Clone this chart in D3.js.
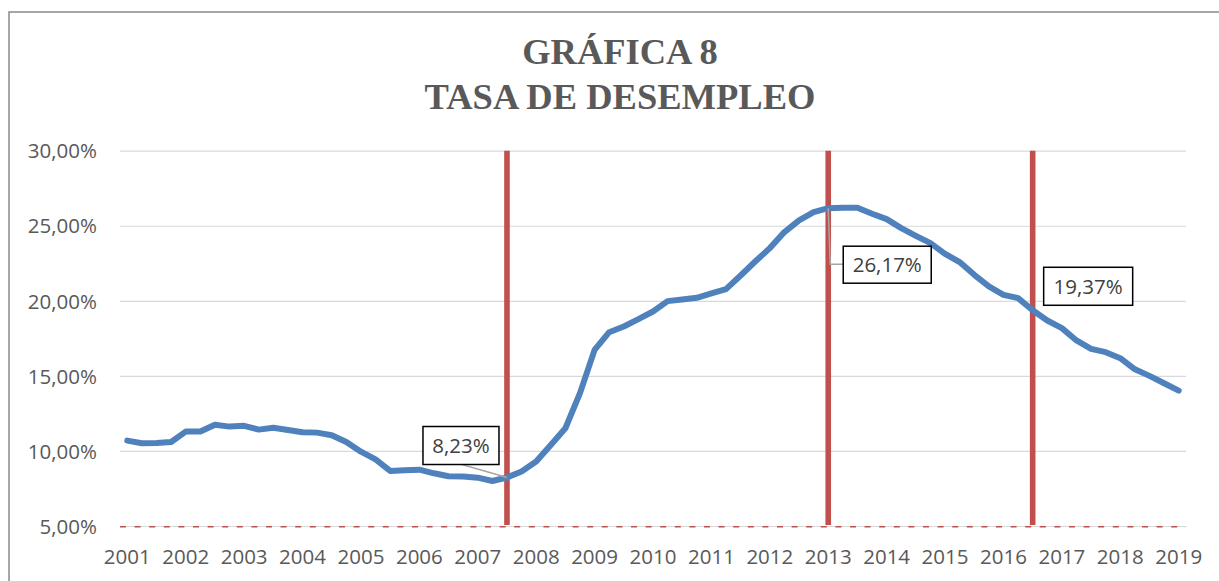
<!DOCTYPE html>
<html>
<head>
<meta charset="utf-8">
<script src="https://cdn.jsdelivr.net/npm/d3@7"></script>
<style>
  html, body { margin: 0; padding: 0; background: #fff; }
  svg { display: block; }
</style>
</head>
<body>
<svg id="chart" width="1219" height="581"></svg>
<script>
// quarterly unemployment rate (%), 2001-I .. 2019-I
const years = [2001, 2002, 2003, 2004, 2005, 2006, 2007, 2008, 2009, 2010,
               2011, 2012, 2013, 2014, 2015, 2016, 2017, 2018, 2019];
const quarterNames = ["I", "II", "III", "IV"];
const quarters = years.flatMap(y => y === 2019 ? [`${y}-I`] : quarterNames.map(q => `${y}-${q}`));

const rate = [
  10.69, 10.51, 10.53, 10.60, 11.29, 11.29, 11.75, 11.62, 11.67, 11.42,
  11.55, 11.40, 11.24, 11.22, 11.05, 10.60,  9.95,  9.44,  8.67,  8.71,
   8.75,  8.51,  8.31,  8.29,  8.22,  8.00,  8.23,  8.63,  9.29, 10.40,
  11.51, 13.85, 16.73, 17.91, 18.29, 18.78, 19.29, 19.98, 20.09, 20.20,
  20.49, 20.78, 21.69, 22.62, 23.51, 24.58, 25.36, 25.91, 26.17, 26.20,
  26.20, 25.80, 25.44, 24.84, 24.33, 23.84, 23.13, 22.58, 21.73, 20.96,
  20.40, 20.18, 19.37, 18.69, 18.18, 17.36, 16.80, 16.58, 16.18, 15.44,
  15.00, 14.51, 14.02
];

const yTicks = [5, 10, 15, 20, 25, 30];
const floorRate = 5;                                   // dashed red reference
const markerQuarters = ["2007-III", "2013-I", "2016-III"];
const titleLines = ["GRÁFICA 8", "TASA DE DESEMPLEO"];

const data = quarters.map((q, i) => ({ q, v: rate[i] }));
const es = d3.formatLocale({ decimal: ",", thousands: ".", grouping: [3], currency: ["", "€"] });
const pct = v => es.format(".2f")(v) + "%";

const svg = d3.select("#chart");
const m = { left: 120, right: 1186, top: 150.7, bottom: 526 };
const FONT = "'Open Sans', 'Liberation Sans', sans-serif";

// chart frame (only left & top visible in the crop)
svg.append("rect").attr("x", 9).attr("y", 12).attr("width", 1240).attr("height", 620)
  .attr("fill", "#fff").attr("stroke", "#898989").attr("stroke-width", 1.5);

// title
svg.append("g").selectAll("text").data(titleLines).join("text")
  .attr("x", 620).attr("y", (d, i) => 64 + i * 45)
  .attr("text-anchor", "middle")
  .attr("font-family", "'Liberation Serif', 'Times New Roman', serif")
  .attr("font-weight", "bold").attr("font-size", 36.5)
  .attr("fill", "#595959")
  .text(d => d);

const x = d3.scaleBand().domain(quarters).range([m.left, m.right]).padding(0);
const cx = q => x(q) + x.bandwidth() / 2;
const y = d3.scaleLinear().domain([5, 30]).range([m.bottom, m.top]);

// gridlines
svg.append("g")
  .attr("transform", `translate(${m.left},0)`)
  .call(d3.axisLeft(y).tickValues(yTicks).tickSize(-(m.right - m.left)).tickFormat(""))
  .call(g => g.select(".domain").remove())
  .call(g => g.selectAll("line").attr("stroke", "#d9d9d9").attr("stroke-width", 1.2));

// y labels
svg.append("g")
  .attr("transform", `translate(97,0)`)
  .call(d3.axisLeft(y).tickValues(yTicks).tickSize(0).tickPadding(0).tickFormat(pct))
  .call(g => g.select(".domain").remove())
  .call(g => g.selectAll("text").attr("fill", "#595959").attr("font-size", 20.5)
    .attr("font-family", FONT).attr("dy", "0.35em"));

// x labels, one per year (every 4th quarter)
svg.append("g")
  .attr("transform", `translate(0,${m.bottom})`)
  .call(d3.axisBottom(x).tickValues(quarters.filter((q, i) => i % 4 === 0))
    .tickSize(0).tickPadding(0).tickFormat(q => q.split("-")[0]))
  .call(g => g.select(".domain").remove())
  .call(g => g.selectAll("text").attr("fill", "#595959").attr("font-size", 20.5)
    .attr("font-family", FONT).attr("dy", null).attr("y", 38));

// dashed red line at the floor
svg.append("line")
  .attr("x1", m.left).attr("x2", m.right)
  .attr("y1", y(floorRate) + 0.8).attr("y2", y(floorRate) + 0.8)
  .attr("stroke", "#c0504d").attr("stroke-width", 1.4)
  .attr("stroke-dasharray", "6,8.6");

// red vertical markers
svg.append("g").selectAll("line").data(markerQuarters).join("line")
  .attr("x1", d => cx(d)).attr("x2", d => cx(d))
  .attr("y1", y(30)).attr("y2", y(5) - 1)
  .attr("stroke", "#c0504d").attr("stroke-width", 5.6);

// main series
const line = d3.line().x(d => cx(d.q)).y(d => y(d.v));
svg.append("path").datum(data)
  .attr("d", line)
  .attr("fill", "none").attr("stroke", "#4f81bd").attr("stroke-width", 6)
  .attr("stroke-linejoin", "round").attr("stroke-linecap", "round");

// data labels with boxes; offsets relative to the labelled point
const callouts = [
  { q: "2007-III", dx: -84, dy: -51, w: 76, h: 38, leader: (p, b) => [[b.x + 39, b.y + b.h], [p.x, p.y]] },
  { q: "2013-I",   dx: 15,  dy: 38,  w: 88, h: 37, leader: (p, b) => [[p.x, p.y], [p.x + 2, b.y + 18], [b.x, b.y + 18]] },
  { q: "2016-III", dx: 11,  dy: -43, w: 89, h: 38, leader: null }
];

const cg = svg.append("g");
callouts.forEach(c => {
  const v = data.find(d => d.q === c.q).v;
  const p = { x: cx(c.q), y: y(v) };
  const b = { x: p.x + c.dx, y: p.y + c.dy, w: c.w, h: c.h };
  if (c.leader) {
    cg.append("path").attr("d", d3.line()(c.leader(p, b)))
      .attr("fill", "none").attr("stroke", "#a6a6a6").attr("stroke-width", 1.5);
  }
  cg.append("rect").attr("x", b.x).attr("y", b.y).attr("width", b.w).attr("height", b.h)
    .attr("fill", "#fff").attr("stroke", "#000").attr("stroke-width", 1.5);
  cg.append("text").attr("x", b.x + b.w / 2).attr("y", b.y + b.h / 2)
    .attr("dy", "0.36em").attr("text-anchor", "middle")
    .attr("font-family", FONT).attr("font-size", 20.5).attr("fill", "#404040")
    .text(pct(v));
});
</script>
</body>
</html>
